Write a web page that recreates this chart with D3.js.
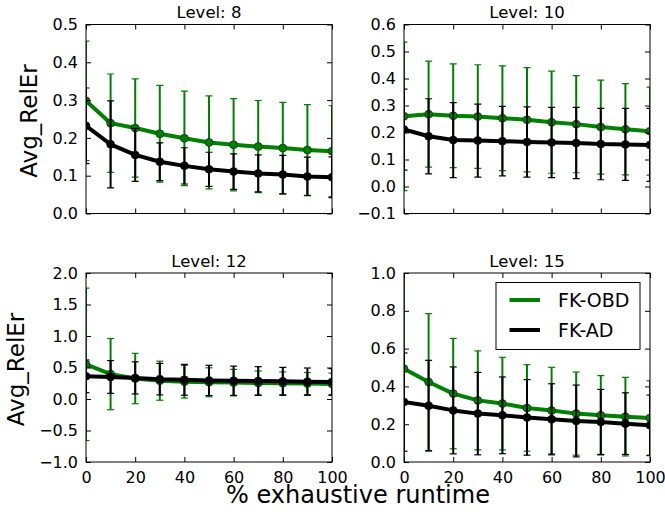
<!DOCTYPE html>
<html><head><meta charset="utf-8">
<script src="https://cdn.jsdelivr.net/npm/d3@7"></script>
<style>body{margin:0;background:#fff} text{font-family:"DejaVu Sans",sans-serif;fill:#000}</style>
</head><body><svg id="c" width="665" height="519"></svg>
<script>
// ---------------- data ----------------
const xValues = [0, 10, 20, 30, 40, 50, 60, 70, 80, 90, 100];
const xTicks = [0, 20, 40, 60, 80, 100];
const panelTitles = ["Level: 8", "Level: 10", "Level: 12", "Level: 15"];
const seriesNames = ["FK-OBD", "FK-AD"];
const seriesColors = ["#008000", "#000000"];

const obdMean8 = [0.298, 0.239, 0.226, 0.211, 0.199, 0.188, 0.182, 0.177, 0.173, 0.168, 0.165];
const obdStd8  = [0.158, 0.130, 0.130, 0.128, 0.125, 0.123, 0.122, 0.122, 0.121, 0.120, 0.120];
const adMean8  = [0.232, 0.183, 0.155, 0.137, 0.126, 0.117, 0.111, 0.106, 0.103, 0.098, 0.096];
const adStd8   = [0.100, 0.115, 0.070, 0.050, 0.048, 0.045, 0.047, 0.049, 0.051, 0.051, 0.054];

const obdMean10 = [0.260, 0.268, 0.262, 0.259, 0.253, 0.247, 0.238, 0.231, 0.220, 0.212, 0.205];
const obdStd10  = [0.275, 0.196, 0.192, 0.192, 0.194, 0.193, 0.189, 0.180, 0.174, 0.169, 0.163];
const adMean10  = [0.211, 0.186, 0.172, 0.170, 0.168, 0.165, 0.163, 0.161, 0.157, 0.156, 0.154];
const adStd10   = [0.150, 0.139, 0.139, 0.135, 0.129, 0.130, 0.130, 0.132, 0.132, 0.133, 0.135];

const obdMean12 = [0.550, 0.395, 0.325, 0.290, 0.275, 0.265, 0.260, 0.255, 0.250, 0.245, 0.240];
const obdStd12  = [1.210, 0.565, 0.400, 0.310, 0.260, 0.230, 0.210, 0.190, 0.180, 0.175, 0.170];
const adMean12  = [0.360, 0.350, 0.335, 0.315, 0.305, 0.295, 0.290, 0.285, 0.280, 0.275, 0.270];
const adStd12   = [0.260, 0.260, 0.255, 0.250, 0.245, 0.240, 0.232, 0.228, 0.222, 0.217, 0.212];

const obdMean15 = [0.494, 0.423, 0.362, 0.326, 0.309, 0.286, 0.272, 0.256, 0.247, 0.240, 0.233];
const obdStd15  = [0.550, 0.362, 0.292, 0.262, 0.245, 0.229, 0.229, 0.220, 0.210, 0.208, 0.197];
const adMean15  = [0.317, 0.298, 0.273, 0.256, 0.247, 0.236, 0.226, 0.217, 0.212, 0.203, 0.194];
const adStd15   = [0.260, 0.240, 0.230, 0.218, 0.203, 0.200, 0.188, 0.190, 0.172, 0.163, 0.160];

const yDomain8 = [0, 0.5],  yTicks8 = [0, 0.1, 0.2, 0.3, 0.4, 0.5];
const yDomain10 = [-0.1, 0.6], yTicks10 = [-0.1, 0, 0.1, 0.2, 0.3, 0.4, 0.5, 0.6];
const yDomain12 = [-1, 2], yTicks12 = [-1, -0.5, 0, 0.5, 1, 1.5, 2];
const yDomain15 = [0, 1], yTicks15 = [0, 0.2, 0.4, 0.6, 0.8, 1.0];

const yLabel = "Avg_RelEr";
const xLabel = "% exhaustive runtime";

// ---------------- layout ----------------
const W = 246, H = 189;
const panels = [
  {x0: 86,  y0: 24.5, title: panelTitles[0], dom: yDomain8,  ticks: yTicks8,  series: [[obdMean8, obdStd8], [adMean8, adStd8]], left: true, bottom: false, labX: 37},
  {x0: 404, y0: 24.5, title: panelTitles[1], dom: yDomain10, ticks: yTicks10, series: [[obdMean10, obdStd10], [adMean10, adStd10]], left: false, bottom: false},
  {x0: 86,  y0: 273,  title: panelTitles[2], dom: yDomain12, ticks: yTicks12, series: [[obdMean12, obdStd12], [adMean12, adStd12]], left: true, bottom: true, labX: 23.5},
  {x0: 404, y0: 273,  title: panelTitles[3], dom: yDomain15, ticks: yTicks15, series: [[obdMean15, obdStd15], [adMean15, adStd15]], left: false, bottom: true, legend: true}
];

const svg = d3.select("#c");
const fmt = d3.format(".1f");

panels.forEach((p, pi) => {
  const g = svg.append("g").attr("transform", `translate(${p.x0},${p.y0})`);
  const x = d3.scaleLinear().domain([0, 100]).range([0, W]);
  const y = d3.scaleLinear().domain(p.dom).range([H, 0]);

  const cid = "clip" + pi;
  g.append("clipPath").attr("id", cid).append("rect").attr("width", W).attr("height", H);
  const plot = g.append("g").attr("clip-path", `url(#${cid})`);

  p.series.forEach(([mean, std], si) => {
    const col = seriesColors[si];
    const sg = plot.append("g");
    xValues.forEach((xv, i) => {
      const cx = x(xv), lo = y(mean[i] - std[i]), hi = y(mean[i] + std[i]);
      sg.append("line").attr("x1", cx).attr("x2", cx).attr("y1", lo).attr("y2", hi)
        .attr("stroke", col).attr("stroke-width", 2);
      [lo, hi].forEach(yy => sg.append("line").attr("x1", cx - 3.5).attr("x2", cx + 3.5)
        .attr("y1", yy).attr("y2", yy).attr("stroke", col).attr("stroke-width", 1.2));
    });
    const line = d3.line().x((d, i) => x(xValues[i])).y(d => y(d));
    sg.append("path").datum(mean).attr("d", line).attr("fill", "none")
      .attr("stroke", col).attr("stroke-width", 4).attr("stroke-linejoin", "round");
    sg.selectAll("circle.m").data(mean).enter().append("circle")
      .attr("cx", (d, i) => x(xValues[i])).attr("cy", d => y(d)).attr("r", 4)
      .attr("fill", col).attr("stroke", "#000").attr("stroke-width", 0.5);
  });

  // axes (inward ticks)
  const axL = d3.axisLeft(y).tickValues(p.ticks).tickSize(-5).tickPadding(8).tickFormat(fmt);
  const axR = d3.axisRight(y).tickValues(p.ticks).tickSize(-5).tickFormat("");
  const axB = d3.axisBottom(x).tickValues(xTicks).tickSize(-5).tickPadding(9.5)
    .tickFormat(p.bottom ? d3.format("d") : "");
  const axT = d3.axisTop(x).tickValues(xTicks).tickSize(-5).tickFormat("");
  const style = sel => {
    sel.select(".domain").remove();
    sel.selectAll("line").attr("stroke", "#000");
    sel.selectAll("text").style("font-size", "16px").attr("fill", "#000");
  };
  g.append("g").call(axL).call(style);
  g.append("g").attr("transform", `translate(${W},0)`).call(axR).call(style);
  g.append("g").attr("transform", `translate(0,${H})`).call(axB).call(style);
  g.append("g").call(axT).call(style);

  g.append("rect").attr("width", W).attr("height", H).attr("fill", "none")
    .attr("stroke", "#000").attr("stroke-width", 1);

  g.append("text").attr("x", W / 2).attr("y", -6.5).attr("text-anchor", "middle")
    .style("font-size", "16.5px").text(p.title);

  if (p.left) {
    svg.append("text").attr("transform", `translate(${p.labX},${p.y0 + H / 2 + 2}) rotate(-90)`)
      .attr("text-anchor", "middle").style("font-size", "23px").text(yLabel);
  }

  if (p.legend) {
    const lg = svg.append("g");
    lg.append("rect").attr("x", 496).attr("y", 282.5).attr("width", 144).attr("height", 67)
      .attr("fill", "#fff").attr("stroke", "#000").attr("stroke-width", 1);
    seriesNames.forEach((nm, si) => {
      const yy = 300 + si * 30;
      lg.append("line").attr("x1", 509.5).attr("x2", 540).attr("y1", yy).attr("y2", yy)
        .attr("stroke", seriesColors[si]).attr("stroke-width", 4);
      lg.append("text").attr("x", 558).attr("y", yy).attr("dy", "0.36em")
        .style("font-size", "19px").text(nm);
    });
  }
});

svg.append("text").attr("x", 358).attr("y", 503).attr("text-anchor", "middle")
  .style("font-size", "24px").text(xLabel);
</script></body></html>
